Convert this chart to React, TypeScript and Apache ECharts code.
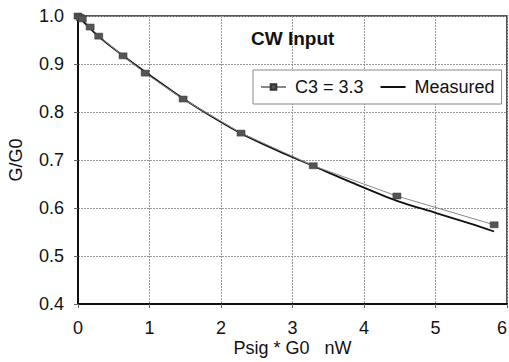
import React, { useEffect, useRef } from "react";
import * as echarts from "echarts";

const c3X = [0, 0.03, 0.06, 0.17, 0.29, 0.63, 0.94, 1.47, 2.28, 3.29, 4.46, 5.82];
const c3Y = [1.0, 0.997, 0.994, 0.977, 0.958, 0.917, 0.881, 0.827, 0.756, 0.688, 0.625, 0.565];
const measX = [0, 0.3, 0.65, 1, 1.5, 2, 2.3, 2.8, 3.3, 3.8, 4.46, 5, 5.5, 5.82];
const measY = [1.0, 0.956, 0.915, 0.877, 0.825, 0.779, 0.754, 0.719, 0.687, 0.655, 0.615, 0.59, 0.567, 0.551];
const xTicks = [0, 1, 2, 3, 4, 5, 6];
const yTicks = [0.4, 0.5, 0.6, 0.7, 0.8, 0.9, 1.0];

export default function App() {
  const ref = useRef<HTMLDivElement>(null);
  useEffect(() => {
    const chart = echarts.init(ref.current!, null, { renderer: "svg" });
    const font = "Liberation Sans, Arial, sans-serif";
    chart.setOption({
      animation: false,
      backgroundColor: "#fff",
      textStyle: { fontFamily: font },
      title: {
        text: "CW Input",
        left: 251,
        top: 29,
        padding: 0,
        textStyle: { fontSize: 19, fontWeight: "bold", color: "#111", fontFamily: font },
      },
      legend: {
        left: 253,
        top: 70,
        padding: [8, 7, 8, 7],
        borderColor: "#888",
        borderWidth: 1,
        backgroundColor: "#fff",
        itemWidth: 25,
        itemHeight: 7,
        itemGap: 16,
        textStyle: { fontSize: 18, color: "#111", fontFamily: font, padding: [0, 0, 0, 4] },
        data: [
          { name: "C3 = 3.3" },
          { name: "Measured", itemStyle: { opacity: 0 } },
        ],
      },
      grid: {
        left: 78,
        top: 16,
        right: 2,
        bottom: 58,
        show: false,
        containLabel: false,
        outerBoundsMode: "none",
      },
      xAxis: {
        type: "value",
        min: xTicks[0],
        max: xTicks[xTicks.length - 1],
        interval: 1,
        name: "Psig * G0\u00A0\u00A0\u00A0nW",
        nameLocation: "middle",
        nameGap: 35,
        nameMoveOverlap: false,
        nameTextStyle: { fontSize: 18, color: "#111", fontFamily: font },
        axisLine: { show: true, onZero: false, lineStyle: { color: "#111", width: 2 } },
        axisTick: { show: true, length: 4, lineStyle: { color: "#666" } },
        axisLabel: {
          fontSize: 18,
          color: "#111",
          margin: 15,
          fontFamily: font,
          hideOverlap: false,
          alignMaxLabel: "right",
        },
        splitLine: { show: true, lineStyle: { color: "#999", width: 1, type: [2, 1] } },
      },
      yAxis: {
        type: "value",
        min: yTicks[0],
        max: yTicks[yTicks.length - 1],
        interval: 0.1,
        name: "G/G0",
        nameLocation: "middle",
        nameGap: 53,
        nameMoveOverlap: false,
        nameTextStyle: { fontSize: 18, color: "#111", fontFamily: font },
        axisLine: { show: true, onZero: false, lineStyle: { color: "#111", width: 2 } },
        axisTick: { show: true, length: 4, lineStyle: { color: "#666" } },
        axisLabel: {
          fontSize: 18,
          color: "#111",
          margin: 14,
          fontFamily: font,
          formatter: (v: number) => v.toFixed(1),
        },
        splitLine: { show: true, lineStyle: { color: "#999", width: 1, type: [2, 1] } },
      },
      graphic: [
        {
          type: "rect",
          shape: { x: 78, y: 16, width: 429, height: 288 },
          style: { fill: "none", stroke: "#222", lineWidth: 1.5 },
          silent: true,
          z: 0,
        },
      ],
      series: [
        {
          name: "Measured",
          type: "line",
          data: measX.map((x, i) => [x, measY[i]]),
          smooth: 0.3,
          showSymbol: false,
          symbol: "none",
          lineStyle: { color: "#111", width: 1.8 },
          itemStyle: { color: "#111" },
          z: 3,
        },
        {
          name: "C3 = 3.3",
          type: "line",
          data: c3X.map((x, i) => [x, c3Y[i]]),
          symbol: "rect",
          symbolSize: [8, 6],
          lineStyle: { color: "#888", width: 1 },
          itemStyle: { color: "#555", borderColor: "#333", borderWidth: 0.5 },
          z: 4,
        },
      ],
    });
    return () => chart.dispose();
  }, []);
  return <div ref={ref} style={{ width: 509, height: 362, position: "absolute", left: 0, top: 0 }} />;
}
